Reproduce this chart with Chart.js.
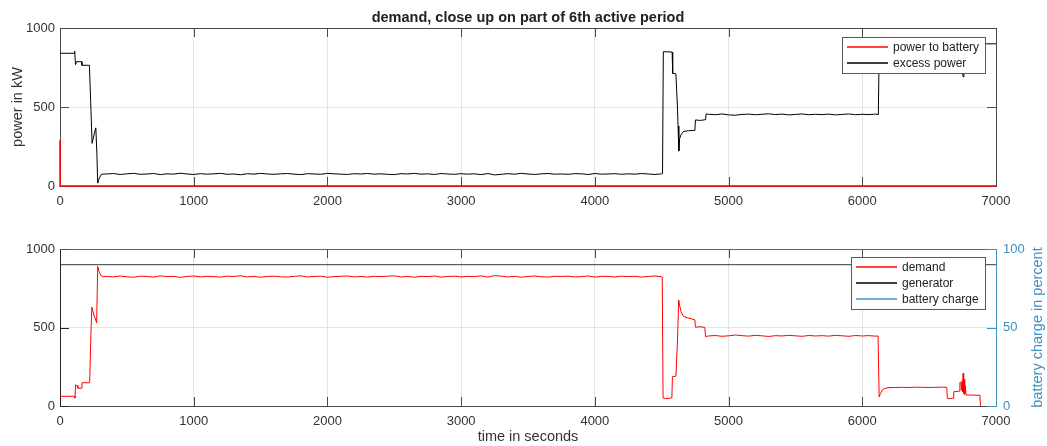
<!DOCTYPE html>
<html>
<head>
<meta charset="utf-8">
<script src="https://cdn.jsdelivr.net/npm/chart.js@4/dist/chart.umd.min.js"></script>
<style>
  html, body { margin: 0; padding: 0; background: #fff; }
  canvas { position: absolute; left: 0; }
  #topChart { top: 0; }
  #botChart { top: 215px; }
</style>
</head>
<body>
<canvas id="topChart" width="1047" height="215"></canvas>
<canvas id="botChart" width="1047" height="231"></canvas>
<script>
// demand close-up, two stacked panels (MATLAB style)

const TITLE = 'demand, close up on part of 6th active period';
const X_TICKS = [0, 1000, 2000, 3000, 4000, 5000, 6000, 7000];
const KW_TICKS = [0, 500, 1000];
const PCT_TICKS = [0, 50, 100];

// top panel: [time s, kW]
const powerToBattery = [[0, 290], [1, 0], [7000, 0]];
const excessPower = [
  [0, 840], [106, 840], [110, 852], [116, 768], [124, 787], [160, 787], [164, 764], [220, 764],
  [230, 520], [240, 270], [256, 330], [268, 368], [276, 200], [282, 18], [294, 50], [310, 74], [330, 76],
  [350, 76], [400, 79], [450, 73], [500, 77], [550, 80], [600, 74], [650, 76], [700, 79], [750, 72],
  [800, 77], [850, 75], [900, 81], [950, 76], [1000, 73], [1050, 78], [1100, 75], [1150, 77], [1200, 80],
  [1250, 74], [1300, 76], [1350, 71], [1400, 78], [1450, 75], [1500, 80], [1550, 76], [1600, 74],
  [1650, 77], [1700, 79], [1750, 75], [1800, 72], [1850, 78], [1900, 76], [1950, 74], [2000, 80],
  [2050, 77], [2100, 75], [2150, 73], [2200, 78], [2250, 76], [2300, 79], [2350, 75], [2400, 77],
  [2450, 74], [2500, 72], [2550, 78], [2600, 76], [2650, 80], [2700, 75], [2750, 77], [2800, 73],
  [2850, 79], [2900, 76], [2950, 74], [3000, 78], [3050, 75], [3100, 77], [3150, 72], [3200, 79],
  [3250, 70], [3300, 74], [3350, 78], [3400, 75], [3450, 80], [3500, 76], [3550, 73], [3600, 77],
  [3650, 79], [3700, 75], [3750, 76], [3800, 74], [3850, 78], [3900, 77], [3950, 73], [4000, 79],
  [4050, 75], [4100, 76], [4150, 78], [4200, 74], [4250, 77], [4300, 75], [4350, 79], [4400, 76],
  [4450, 73], [4500, 77],
  [4506, 78], [4512, 850], [4578, 848], [4582, 713], [4606, 710], [4612, 600], [4618, 493], [4622, 380],
  [4628, 221], [4634, 300], [4645, 325], [4662, 345], [4700, 350], [4748, 352], [4752, 418], [4790, 415],
  [4828, 420], [4832, 456],
  [4850, 454], [4900, 451], [4950, 456], [5000, 450], [5050, 448], [5100, 453], [5150, 455], [5200, 451],
  [5250, 454], [5300, 457], [5350, 452], [5400, 455], [5450, 450], [5500, 453], [5550, 456], [5600, 451],
  [5650, 454], [5700, 452], [5750, 455], [5800, 450], [5850, 453], [5900, 456], [5950, 451], [6000, 454],
  [6050, 452], [6100, 455],
  [6120, 452], [6126, 842], [6150, 798], [6200, 783], [6632, 781], [6636, 851], [6680, 850], [6684, 809],
  [6728, 805], [6731, 750], [6746, 740], [6754, 691], [6760, 820], [6776, 830], [6880, 832], [6886, 900],
  [7000, 900]
];

// bottom panel: [time s, kW] and [time s, %]
const demand = [
  [0, 62], [108, 62], [112, 50], [116, 134], [128, 130], [134, 113], [160, 113], [164, 148], [222, 148],
  [230, 420], [238, 630], [252, 585], [274, 530], [282, 889], [292, 858], [305, 832], [322, 824],
  [350, 826], [400, 822], [450, 828], [500, 823], [550, 820], [600, 827], [650, 825], [700, 821],
  [750, 829], [800, 824], [850, 826], [900, 819], [950, 825], [1000, 828], [1050, 822], [1100, 826],
  [1150, 824], [1200, 821], [1250, 827], [1300, 825], [1350, 830], [1400, 822], [1450, 826], [1500, 820],
  [1550, 825], [1600, 827], [1650, 823], [1700, 821], [1750, 826], [1800, 829], [1850, 822], [1900, 825],
  [1950, 827], [2000, 820], [2050, 824], [2100, 826], [2150, 828], [2200, 822], [2250, 825], [2300, 821],
  [2350, 826], [2400, 824], [2450, 827], [2500, 829], [2550, 822], [2600, 825], [2650, 820], [2700, 826],
  [2750, 824], [2800, 828], [2850, 821], [2900, 825], [2950, 827], [3000, 822], [3050, 826], [3100, 824],
  [3150, 829], [3200, 821], [3250, 831], [3300, 827], [3350, 822], [3400, 826], [3450, 820], [3500, 825],
  [3550, 828], [3600, 823], [3650, 821], [3700, 826], [3750, 825], [3800, 827], [3850, 822], [3900, 824],
  [3950, 828], [4000, 821], [4050, 826], [4100, 825], [4150, 822], [4200, 827], [4250, 824], [4300, 826],
  [4350, 821], [4400, 825], [4450, 828], [4500, 823],
  [4504, 822], [4510, 52], [4530, 46], [4560, 50], [4576, 52], [4580, 187], [4606, 190], [4612, 300],
  [4618, 421], [4627, 676], [4634, 640], [4645, 600], [4662, 572], [4690, 562], [4720, 556], [4748, 549],
  [4752, 502], [4790, 505], [4822, 500], [4828, 442],
  [4850, 446], [4900, 449], [4950, 444], [5000, 447], [5050, 452], [5100, 448], [5150, 445], [5200, 450],
  [5250, 447], [5300, 443], [5350, 448], [5400, 446], [5450, 450], [5500, 447], [5550, 444], [5600, 449],
  [5650, 446], [5700, 448], [5750, 445], [5800, 450], [5850, 447], [5900, 444], [5950, 449], [6000, 446],
  [6050, 448], [6100, 445],
  [6118, 446], [6126, 58], [6136, 80], [6150, 102], [6170, 112], [6200, 117],
  [6250, 118], [6300, 119], [6350, 118], [6400, 120], [6450, 119], [6500, 118], [6550, 119], [6600, 120],
  [6632, 119], [6636, 49], [6660, 47], [6680, 50], [6684, 91], [6700, 92], [6726, 95], [6730, 150],
  [6738, 146], [6742, 100], [6746, 160], [6750, 90], [6754, 209], [6758, 80], [6762, 170], [6766, 75],
  [6770, 130], [6776, 70], [6800, 70], [6850, 69], [6880, 68], [6884, 0]
];
const generator = [[0, 900], [7000, 900]];
const batteryCharge = [[0, 100], [7000, 100]];

const RED = '#ff0000';
const BLUE = '#3f90c4';
const AXIS = '#4a4a4a';
const TEXT = '#333333';
const GRID = '#e4e4e4';
const FONT = "'Liberation Sans', Arial, Helvetica, sans-serif";
const LABEL_SIZE = 14.5;

Chart.defaults.font.family = FONT;
Chart.defaults.font.size = 13;
Chart.defaults.color = TEXT;

const toXY = pts => pts.map(p => ({x: p[0], y: p[1]}));
const al = v => Math.round(v) + 0.5;
const plain = v => String(v);

// box + inward ticks like matlab axes
const framePlugin = {
  id: 'frame',
  beforeDatasetsDraw(chart, args, o) {
    const {ctx, chartArea: a, scales} = chart;
    const L = 9;
    ctx.save();
    ctx.lineWidth = 1;
    ctx.strokeStyle = AXIS;
    ctx.beginPath();
    X_TICKS.forEach(v => {
      const px = al(scales.x.getPixelForValue(v));
      ctx.moveTo(px, a.bottom); ctx.lineTo(px, a.bottom - L);
      ctx.moveTo(px, a.top); ctx.lineTo(px, a.top + L);
    });
    ctx.moveTo(a.left, al(a.top)); ctx.lineTo(a.right, al(a.top));
    ctx.moveTo(a.left, al(a.bottom)); ctx.lineTo(a.right, al(a.bottom));
    ctx.stroke();
    // left axis
    ctx.strokeStyle = o.leftColor || AXIS;
    ctx.beginPath();
    ctx.moveTo(al(a.left), a.top); ctx.lineTo(al(a.left), a.bottom + 1);
    KW_TICKS.forEach(v => {
      const py = al(scales.y.getPixelForValue(v));
      ctx.moveTo(a.left, py); ctx.lineTo(a.left + L, py);
      if (!scales.y1) { ctx.moveTo(a.right, py); ctx.lineTo(a.right - L, py); }
    });
    ctx.stroke();
    // right axis
    ctx.strokeStyle = o.rightColor || AXIS;
    ctx.beginPath();
    ctx.moveTo(al(a.right), a.top); ctx.lineTo(al(a.right), a.bottom + 1);
    if (scales.y1) {
      PCT_TICKS.forEach(v => {
        const py = al(scales.y1.getPixelForValue(v));
        ctx.moveTo(a.right, py); ctx.lineTo(a.right - L, py);
      });
    }
    ctx.stroke();
    ctx.restore();
  },
  afterDraw(chart, args, o) {
    const {ctx, chartArea: a} = chart;
    ctx.save();
    if (o.title) {
      ctx.font = 'bold ' + LABEL_SIZE + 'px ' + FONT;
      ctx.fillStyle = '#222';
      ctx.textAlign = 'center';
      ctx.textBaseline = 'middle';
      ctx.fillText(o.title, (a.left + a.right) / 2, 18);
    }
    if (o.rightTitle) {
      ctx.font = LABEL_SIZE + 'px ' + FONT;
      ctx.fillStyle = BLUE;
      ctx.textAlign = 'center';
      ctx.textBaseline = 'middle';
      ctx.translate(1038, (a.top + a.bottom) / 2);
      ctx.rotate(-Math.PI / 2);
      ctx.fillText(o.rightTitle, 0, 0);
    }
    ctx.restore();
  }
};

// legend box inside the axes, top right
const boxLegend = {
  id: 'boxLegend',
  afterDatasetsDraw(chart, args, o) {
    const {ctx, chartArea: a} = chart;
    ctx.save();
    ctx.font = '12px ' + FONT;
    const tw = Math.max(...o.items.map(it => ctx.measureText(it.label).width));
    const w = Math.round(51 + tw + 6);
    const h = o.items.length * 16 + 4;
    const x0 = a.right - o.right - w;
    const y0 = a.top + o.top;
    ctx.fillStyle = '#fff';
    ctx.fillRect(x0, y0, w, h);
    ctx.strokeStyle = '#5a5a5a';
    ctx.lineWidth = 1;
    ctx.strokeRect(al(x0), al(y0), w, h);
    ctx.textBaseline = 'middle';
    o.items.forEach((it, i) => {
      const y = y0 + 10 + i * 16;
      ctx.strokeStyle = it.color;
      ctx.lineWidth = 1.3;
      ctx.beginPath();
      ctx.moveTo(x0 + 5, y); ctx.lineTo(x0 + 46, y);
      ctx.stroke();
      ctx.fillStyle = '#222';
      ctx.fillText(it.label, x0 + 51, y + 0.5);
    });
    ctx.restore();
  }
};

function lineSet(label, pts, color, axis, extra) {
  return Object.assign({
    label, data: toXY(pts), borderColor: color, borderWidth: 1,
    pointRadius: 0, tension: 0, fill: false, yAxisID: axis || 'y'
  }, extra || {});
}

function xScale(height, withTitle) {
  return {
    type: 'linear', min: 0, max: 7000,
    afterBuildTicks: s => { s.ticks = X_TICKS.map(v => ({value: v})); },
    ticks: {padding: 8, color: TEXT, font: {size: 13}, callback: plain},
    grid: {color: GRID, drawTicks: false},
    border: {display: false},
    title: withTitle ? {display: true, text: 'time in seconds', color: TEXT, font: {size: LABEL_SIZE}, padding: {top: 0, bottom: 0}} : {display: false},
    afterFit: s => { s.height = height; }
  };
}

const topChart = new Chart(document.getElementById('topChart'), {
  type: 'line',
  data: {
    datasets: [
      lineSet('power to battery', powerToBattery, RED, 'y', {clip: false, borderWidth: 1.6}),
      lineSet('excess power', excessPower, '#000000')
    ]
  },
  options: {
    responsive: false, animation: false, devicePixelRatio: 1,
    layout: {padding: {top: 28, right: 51, left: 0, bottom: 0}},
    scales: {
      x: xScale(29, false),
      y: {
        min: 0, max: 1000,
        afterBuildTicks: s => { s.ticks = KW_TICKS.map(v => ({value: v})); },
        ticks: {padding: 5, color: TEXT, callback: plain},
        grid: {color: GRID, drawTicks: false},
        border: {display: false},
        title: {display: true, text: 'power in kW', color: TEXT, font: {size: LABEL_SIZE}, padding: {top: 9.3, bottom: 0}},
        afterFit: s => { s.width = 60; }
      }
    },
    plugins: {
      legend: {display: false}, tooltip: {enabled: false},
      frame: {title: TITLE},
      boxLegend: {top: 9, right: 11, items: [
        {label: 'power to battery', color: RED},
        {label: 'excess power', color: '#000000'}
      ]}
    }
  },
  plugins: [framePlugin, boxLegend]
});

const botChart = new Chart(document.getElementById('botChart'), {
  type: 'line',
  data: {
    datasets: [
      lineSet('demand', demand, RED),
      lineSet('generator', generator, '#2e3a40'),
      lineSet('battery charge', batteryCharge, BLUE, 'y1')
    ]
  },
  options: {
    responsive: false, animation: false, devicePixelRatio: 1,
    layout: {padding: {top: 34, right: 0, left: 0, bottom: 0}},
    scales: {
      x: xScale(40, true),
      y: {
        min: 0, max: 1000,
        afterBuildTicks: s => { s.ticks = KW_TICKS.map(v => ({value: v})); },
        ticks: {padding: 5, color: TEXT, callback: plain},
        grid: {color: GRID, drawTicks: false},
        border: {display: false},
        afterFit: s => { s.width = 60; }
      },
      y1: {
        position: 'right', min: 0, max: 100,
        afterBuildTicks: s => { s.ticks = PCT_TICKS.map(v => ({value: v})); },
        ticks: {padding: 7, color: BLUE, callback: plain},
        grid: {display: false, drawTicks: false},
        border: {display: false},
        afterFit: s => { s.width = 51; }
      }
    },
    plugins: {
      legend: {display: false}, tooltip: {enabled: false},
      frame: {leftColor: '#262626', rightColor: BLUE, rightTitle: 'battery charge in percent'},
      boxLegend: {top: 8, right: 11, items: [
        {label: 'demand', color: RED},
        {label: 'generator', color: '#000000'},
        {label: 'battery charge', color: BLUE}
      ]}
    }
  },
  plugins: [framePlugin, boxLegend]
});
</script>
</body>
</html>
